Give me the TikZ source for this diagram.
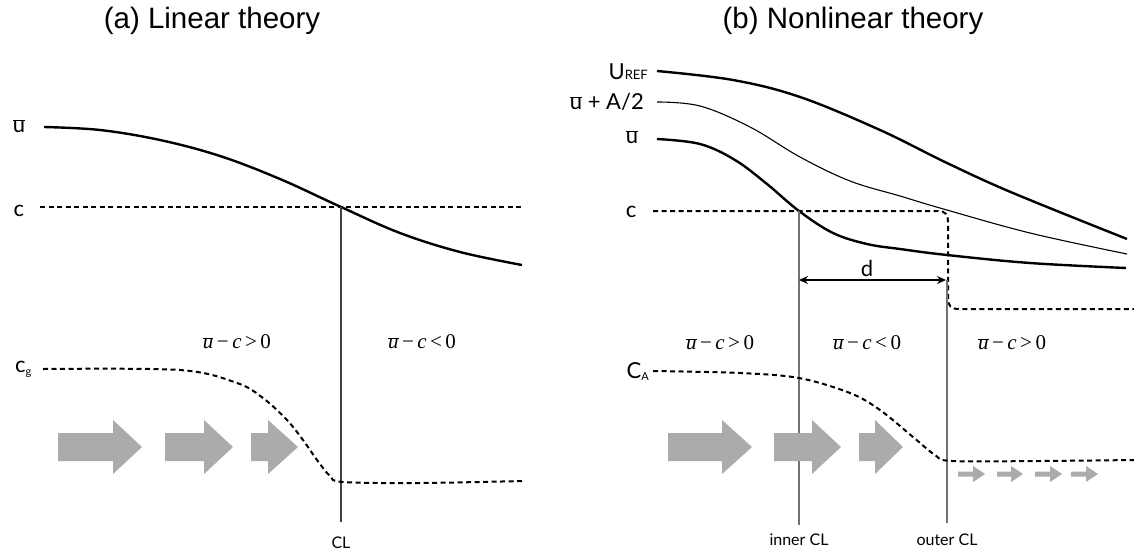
\documentclass[tikz,border=0pt]{standalone}
\usepackage{fontspec}
\setmainfont{Liberation Sans}
\newfontfamily\lab{Lato}
\newfontfamily\tms{Liberation Serif}
\usetikzlibrary{arrows.meta}
\newcommand\flowarr[4]{% x0, body end, tip, y
  \fill[flowarrow] (#1,#4-14) -- (#2,#4-14) -- (#2,#4-27) -- (#3,#4) -- (#2,#4+27) -- (#2,#4+14) -- (#1,#4+14) -- cycle;}
\newcommand\smallarr[4]{%
  \fill[flowarrow] (#1,#4-2.5) -- (#2,#4-2.5) -- (#2,#4-8) -- (#3,#4) -- (#2,#4+8) -- (#2,#4+2.5) -- (#1,#4+2.5) -- cycle;}
\newcommand\ub{$\overline{\mbox{u}}$}
\newcommand\mub{$\overline{\mbox{\itshape u}}$}
\begin{document}
\begin{tikzpicture}[x=1pt,y=-1pt,
  thickcurve/.style={line width=2.4pt},
  thincurve/.style={line width=1.1pt},
  dashcurve/.style={line width=2pt,dash pattern=on 5pt off 3.5pt},
  clline/.style={line width=1.2pt,draw=black!75},
  clline2/.style={line width=1.3pt,draw=black!55},
  lbl/.style={font=\lab\fontsize{22}{22}\selectfont, inner sep=0},
  cllbl/.style={font=\lab\fontsize{16}{16}\selectfont, inner sep=0},
  mlbl/.style={font=\tms\fontsize{21}{21}\selectfont, inner sep=0},
  title/.style={font=\fontsize{29.5}{29.5}\selectfont, inner sep=0},
  flowarrow/.style={fill=black!33, draw=none}]
\useasboundingbox (0,0) rectangle (1134,552);

% ---------- (a) Linear theory ----------
\node[title] (ta) at (212,21) {(a) Linear theory};
\node[lbl] (lu) at (19,126) {\ub};
\node[lbl] (lc) at (19,211) {c};
\node[lbl,anchor=west] (lcg) at (15,369) {c\raisebox{-3pt}{\fontsize{11}{11}\selectfont g}};

\draw[thickcurve] plot[smooth,tension=0.6] coordinates {(44,127) (100,130) (160,140) (220,156) (280,179) (341,207) (400,233) (460,252) (522,265)};
\draw[dashcurve] (40,207) -- (522,207);
\coordinate (cross) at (341,207);
\coordinate (clbot) at (341,522);
\draw[clline] (cross) -- (clbot);
\node[cllbl] (cl) at (341,543) {CL};

\node[mlbl] (ma1) at (237,342) {\mub\,−\,{\itshape c}\,>\,0};
\node[mlbl] (ma2) at (422,342) {\mub\,−\,{\itshape c}\,<\,0};

\draw[dashcurve] plot[smooth,tension=0.55] coordinates {(43,369) (180,370) (237,383) (263,398) (287,420) (303,440) (317,460) (330,476) (343,482) (420,483) (523,481)};

\flowarr{58}{113}{142}{447}
\flowarr{165}{204}{233}{447}
\flowarr{251}{268}{298}{447}

% ---------- (b) Nonlinear theory ----------
\node[title] (tb) at (853,21) {(b) Nonlinear theory};
\node[lbl,anchor=east] (luref) at (648,72) {U\fontsize{13}{13}\selectfont REF};
\node[lbl,anchor=east] (luA) at (644,102) {\ub\ + A/2};
\node[lbl] (lu2) at (632,137) {\ub};
\node[lbl] (lc2) at (631,212) {c};
\node[lbl,anchor=east] (lca) at (649,372) {C\raisebox{-2pt}{\fontsize{11}{11}\selectfont A}};

\draw[thickcurve] plot[smooth,tension=0.6] coordinates {(657,71) (733,80) (800,97) (880,130) (947,163) (1013,193) (1127,239)};
\draw[thincurve] plot[smooth,tension=0.6] coordinates {(657,102) (700,106) (750,127) (800,157) (850,181) (900,196) (940,208) (1030,233) (1127,254)};
\draw[thickcurve] plot[smooth,tension=0.6] coordinates {(657,139) (700,144) (735,160) (767,184) (799,211) (833,233) (867,244) (900,249) (947,255) (1030,263) (1126,268)};

\draw[dashcurve] (653,211) -- (938,211) .. controls (946,211) and (948,215) .. (948,223) -- (948,298) .. controls (948,306) and (951,309) .. (959,309) -- (1134,309);

\coordinate (icltop) at (799,211);
\coordinate (iclbot) at (799,525);
\coordinate (ocltop) at (947,280);
\coordinate (oclbot) at (947,523);
\draw[clline2] (icltop) -- (iclbot);
\draw[clline2] (ocltop) -- (oclbot);
\node[cllbl] (icl) at (799,540) {inner CL};
\node[cllbl] (ocl) at (947,540) {outer CL};

\coordinate (dL) at (799,280);
\coordinate (dR) at (946,280);
\draw[line width=1.2pt,{Stealth[length=9pt,width=8pt]}-{Stealth[length=9pt,width=8pt]}] (dL) -- (dR);
\node[lbl] (dlab) at (867,268) {d};

\node[mlbl] (mb1) at (720,343) {\mub\,−\,{\itshape c}\,>\,0};
\node[mlbl] (mb2) at (867,343) {\mub\,−\,{\itshape c}\,<\,0};
\node[mlbl] (mb3) at (1012,343) {\mub\,−\,{\itshape c}\,>\,0};

\draw[dashcurve] plot[smooth,tension=0.55] coordinates {(653,371) (740,373) (799,378) (850,393) (880,410) (913,437) (935,455) (952,461) (1040,461) (1134,460)};

\flowarr{668}{722}{752}{447}
\flowarr{774}{812}{841}{447}
\flowarr{859}{875}{903}{447}
\smallarr{958}{973}{985}{474}
\smallarr{997}{1011}{1023}{474}
\smallarr{1035}{1050}{1062}{474}
\smallarr{1071}{1086}{1098}{474}
\end{tikzpicture}
\end{document}
